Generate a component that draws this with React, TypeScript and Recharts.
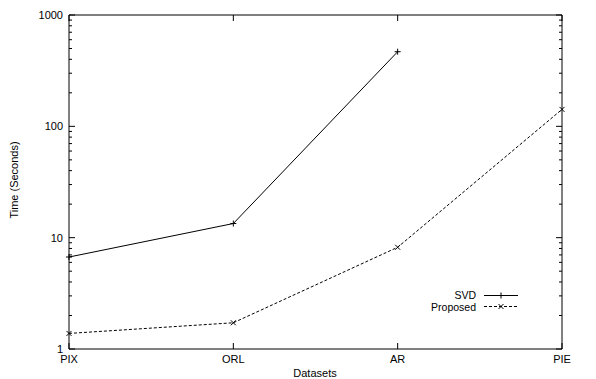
import React from 'react';
import { LineChart, Line, XAxis, YAxis, Legend } from 'recharts';

const datasets = ['PIX', 'ORL', 'AR', 'PIE'];
const svdTimes = [6.7, 13.4, 468, null];
const proposedTimes = [1.38, 1.72, 8.2, 142];
const yTicks = [
  1, 2, 3, 4, 5, 6, 7, 8, 9, 10, 20, 30, 40, 50, 60, 70, 80, 90, 100, 200, 300, 400, 500, 600, 700, 800,
  900, 1000,
];
const majorTicks = [1, 10, 100, 1000];

const data = datasets.map((name, i) => ({ name, svd: svdTimes[i], proposed: proposedTimes[i] }));

const FONT = '"Liberation Sans", Arial, Helvetica, sans-serif';
const W = 596;
const H = 379;

function LeftTick(props: any) {
  const { x, y, payload } = props;
  const major = majorTicks.includes(payload.value);
  const len = major ? 6 : 3;
  return (
    <g>
      <line x1={x} x2={x + len} y1={y} y2={y} stroke='#000' strokeWidth={1} />
      {major && (
        <text x={x - 6} y={y} dy={4} textAnchor='end' fontSize={11} fontFamily={FONT} fill='#000'>
          {payload.value}
        </text>
      )}
    </g>
  );
}

function RightTick(props: any) {
  const { x, y, payload } = props;
  const len = majorTicks.includes(payload.value) ? 6 : 3;
  return <line x1={x - len} x2={x} y1={y} y2={y} stroke='#000' strokeWidth={1} />;
}

function BottomTick(props: any) {
  const { x, y, payload } = props;
  return (
    <g>
      <line x1={x} x2={x} y1={y} y2={y - 6} stroke='#000' strokeWidth={1} />
      <text x={x} y={y + 14} textAnchor='middle' fontSize={11} fontFamily={FONT} fill='#000'>
        {payload.value}
      </text>
    </g>
  );
}

function TopTick(props: any) {
  const { x, y } = props;
  return <line x1={x} x2={x} y1={y} y2={y + 6} stroke='#000' strokeWidth={1} />;
}

function PlusDot(props: any) {
  const { cx, cy, index } = props;
  if (cx == null || cy == null) return <g key={`p${index}`} />;
  return (
    <path key={`p${index}`} d={`M${cx - 3},${cy}H${cx + 3}M${cx},${cy - 3}V${cy + 3}`} stroke='#000' strokeWidth={1} />
  );
}

function CrossDot(props: any) {
  const { cx, cy, index } = props;
  if (cx == null || cy == null) return <g key={`x${index}`} />;
  return (
    <path
      key={`x${index}`}
      d={`M${cx - 2.5},${cy - 2.5}L${cx + 2.5},${cy + 2.5}M${cx - 2.5},${cy + 2.5}L${cx + 2.5},${cy - 2.5}`}
      stroke='#000'
      strokeWidth={1}
    />
  );
}

// key drawn over the plot, gnuplot style (text right-aligned, sample to the right)
function KeyBox() {
  return (
    <svg width={W} height={H} style={{ display: 'block' }}>
      <g fontFamily={FONT} fontSize={10.5} fill='#000'>
        <text x={476} y={299}>
          <tspan textAnchor='end'>SVD</tspan>
        </text>
        <line x1={484} x2={518} y1={295.5} y2={295.5} stroke='#000' />
        <path d='M501,292.5V298.5' stroke='#000' />
        <text x={476} y={310.5} textAnchor='end'>Proposed</text>
        <line x1={484} x2={518} y1={306.5} y2={306.5} stroke='#000' strokeDasharray='3 2' />
        <path d='M498.5,304L503.5,309M498.5,309L503.5,304' stroke='#000' />
      </g>
    </svg>
  );
}

export default function App() {
  return (
    <div style={{ position: 'absolute', left: 0, top: 0, width: W, height: H, background: '#fff' }}>
      <LineChart width={W} height={H} data={data} margin={{ top: 0, right: 0, bottom: 0, left: 0 }}>
        <XAxis
          dataKey='name'
          height={30}
          tickSize={0}
          tickMargin={0}
          interval={0}
          axisLine={{ stroke: '#000', strokeWidth: 1 }}
          tick={<BottomTick />}
          tickLine={false}
          label={{
            content: () => (
              <text x={315} y={377} textAnchor='middle' fontSize={11} fontFamily={FONT} fill='#000'>
                Datasets
              </text>
            ),
          }}
        />
        <XAxis
          xAxisId='top'
          dataKey='name'
          orientation='top'
          height={15}
          tickSize={0}
          tickMargin={0}
          interval={0}
          axisLine={{ stroke: '#000', strokeWidth: 1 }}
          tick={<TopTick />}
          tickLine={false}
        />
        <YAxis
          scale='log'
          type='number'
          domain={[1, 1000]}
          allowDataOverflow
          ticks={yTicks}
          interval={0}
          width={69}
          tickSize={0}
          tickMargin={0}
          axisLine={{ stroke: '#000', strokeWidth: 1 }}
          tick={<LeftTick />}
          tickLine={false}
          label={{
            content: () => (
              <text
                x={0}
                y={0}
                transform='translate(18,180) rotate(-90)'
                textAnchor='middle'
                fontSize={11}
                fontFamily={FONT}
                fill='#000'
              >
                Time (Seconds)
              </text>
            ),
          }}
        />
        <YAxis
          yAxisId='right'
          orientation='right'
          scale='log'
          type='number'
          domain={[1, 1000]}
          allowDataOverflow
          ticks={yTicks}
          interval={0}
          width={34}
          tickSize={0}
          tickMargin={0}
          axisLine={{ stroke: '#000', strokeWidth: 1 }}
          tick={<RightTick />}
          tickLine={false}
        />
        <Legend
          layout='vertical'
          align='center'
          verticalAlign='middle'
          wrapperStyle={{ left: 0, top: 0, width: W, height: H, pointerEvents: 'none' }}
          content={() => <KeyBox />}
        />
        <Line
          dataKey='svd'
          stroke='#000'
          strokeWidth={1}
          dot={<PlusDot />}
          activeDot={false}
          isAnimationActive={false}
          connectNulls={false}
        />
        <Line
          dataKey='proposed'
          stroke='#000'
          strokeWidth={1}
          strokeDasharray='3 2'
          dot={<CrossDot />}
          activeDot={false}
          isAnimationActive={false}
        />
      </LineChart>
    </div>
  );
}
